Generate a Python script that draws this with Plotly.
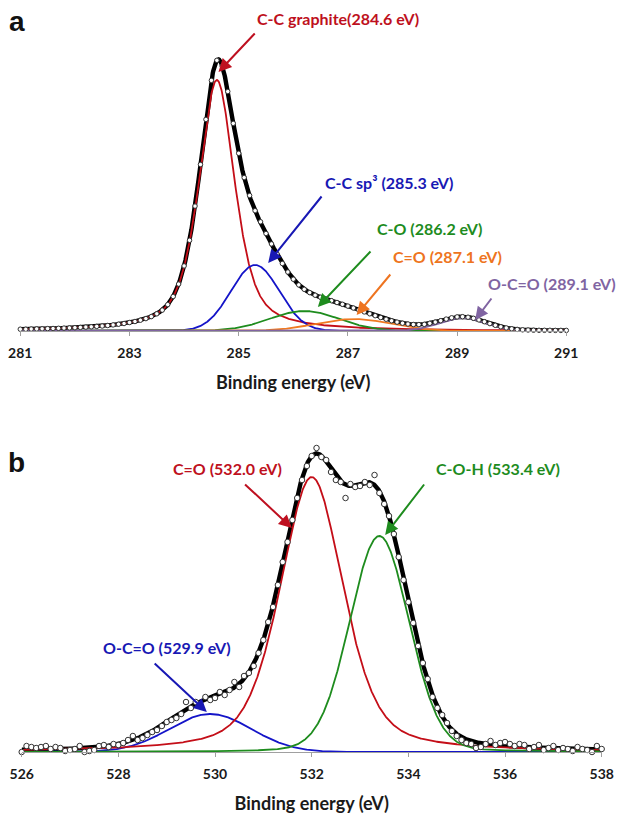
import numpy as np
import plotly.graph_objects as go

# ---------------- C 1s region (panel a) ----------------
c1s_start, c1s_step = 281.0, 0.1
c1s_counts = [
    1.8, 1.8, 2.0, 2.1, 2.2, 2.4, 2.5, 2.7, 2.9, 3.1,
    3.3, 3.6, 3.9, 4.2, 4.6, 5.0, 5.5, 6.1, 6.8, 7.5,
    8.5, 9.5, 10.8, 12.4, 14.4, 17.2, 20.9, 26.4, 34.5, 46.9,
    65.1, 90.7, 124.9, 166.5, 211.6, 250.6, 270.7, 264.7, 239.5, 207.6,
    177.7, 153.4, 135.5, 120.3, 109.2, 97.5, 87.1, 77.1, 67.5, 59.0,
    51.8, 46.1, 41.7, 38.4, 35.8, 33.7, 31.9, 30.3, 28.5, 26.7,
    24.9, 23.0, 21.0, 19.1, 17.2, 15.3, 13.5, 11.8, 10.2, 8.9,
    7.8, 7.0, 6.5, 6.4, 6.7, 7.7, 8.9, 10.3, 11.9, 13.2,
    14.1, 14.3, 13.8, 12.7, 11.1, 9.3, 7.4, 5.7, 4.2, 3.1,
    2.2, 1.6, 1.2, 1.0, 0.8, 0.7, 0.7, 0.7, 0.6, 0.6,
    0.6,
]
c1s_names = ["C-C graphite", "C-C sp³ ", "C-O ", "C=O ", "O-C=O "]
c1s_centers = [284.6, 285.3, 286.2, 287.1, 289.1]
c1s_heights = [251, 66, 20, 12, 13]
c1s_fwhm = [0.78, 1.04, 1.5, 1.6, 1.0]
c1s_lorentz = [0.6, 0.0, 0.0, 0.0, 0.0]
c1s_ticks = [281, 283, 285, 287, 289, 291]

# ---------------- O 1s region (panel b) ----------------
o1s_start, o1s_step = 526.0, 0.1
o1s_counts = [
    0, 6, 5, 4, 5, 6, 3, 5, 4, 1,
    2, 3, 6, 0, 1, 2, 6, 7, 5, 8,
    7, 9, 12, 16, 12, 14, 17, 20, 22, 26,
    30, 32, 34, 38, 50, 44, 50, 47, 55, 52,
    54, 60, 57, 62, 70, 65, 76, 79, 86, 99,
    112, 130, 145, 167, 190, 210, 232, 254, 272, 286,
    296, 304, 295, 292, 280, 272, 270, 254, 268, 265,
    266, 270, 267, 277, 259, 248, 236, 218, 195, 172,
    150, 129, 106, 89, 73, 55, 44, 37, 29, 21,
    16, 12, 9, 8, 4, 5, 8, 11, 7, 9,
    10, 8, 6, 8, 7, 3, 5, 7, 2, 4,
    6, 2, 4, 3, 1, 5, 3, 2, 0, 6,
    3,
]
o1s_names = ["O-C=O ", "C=O ", "C-O-H "]
o1s_centers = [529.9, 532.0, 533.4]
o1s_heights = [38, 275, 216]
o1s_fwhm = [2.0, 1.55, 1.45]
o1s_lorentz = [0.0, 0.45, 0.1]
o1s_ticks = [526, 528, 530, 532, 534, 536, 538]

# ---------------- styling ----------------
c1s_colors = ["#C40E18", "#1414C8", "#1E8C1E", "#F07A22", "#8064A2"]
c1s_text_colors = ["#BE1020", "#1818B4", "#1E8C1E", "#EE7420", "#8064A2"]
o1s_colors = ["#1414C8", "#C40E18", "#1E8C1E"]
o1s_text_colors = ["#1818B4", "#BE1020", "#1E8C1E"]

# label placement: (text x, text y, arrow tail x, tail y, arrow tip x, tip y)
c1s_callouts = [
    (286.82, 313, 285.32, 299, 284.63, 259),
    (287.77, 149, 286.54, 136, 285.54, 68),
    (288.50, 103, 287.44, 81, 286.45, 24),
    (288.83, 75, 287.80, 58, 287.16, 16),
    (290.74, 48, 289.65, 34, 289.33, 11),
]
o1s_callouts = [
    (529.01, 105, 528.72, 90, 529.83, 40),
    (530.26, 284, 530.59, 269, 531.59, 224),
    (535.85, 284, 534.35, 269, 533.52, 217),
]

FONT = "Lato"
W, H = 620, 817


def pseudo_voigt(e, center, height, fwhm, eta):
    """Gaussian-Lorentzian sum line shape used for the peak fit."""
    u = (e - center) / fwhm
    gauss = np.exp(-4.0 * np.log(2.0) * u ** 2)
    lorentz = 1.0 / (1.0 + 4.0 * u ** 2)
    return height * ((1.0 - eta) * gauss + eta * lorentz)


fig = go.Figure()


def add_panel(xa, ya, start, step, counts, centers, heights, fwhm, eta,
              colors, order, lo, hi, msize):
    energy = np.round(start + step * np.arange(len(counts)), 2)
    grid = np.linspace(lo, hi, 1201)
    comps = [pseudo_voigt(grid, c, h, w, n)
             for c, h, w, n in zip(centers, heights, fwhm, eta)]
    envelope = np.sum(comps, axis=0)
    fig.add_trace(go.Scatter(x=grid, y=envelope, mode="lines",
                             line=dict(color="#000000", width=4.4),
                             xaxis=xa, yaxis=ya, hoverinfo="skip"))
    for i in order:
        fig.add_trace(go.Scatter(x=grid, y=comps[i], mode="lines",
                                 line=dict(color=colors[i], width=1.8),
                                 xaxis=xa, yaxis=ya, hoverinfo="skip"))
    fig.add_trace(go.Scatter(x=energy, y=counts, mode="markers",
                             marker=dict(size=msize, color="#ffffff",
                                         line=dict(color="#333333", width=1)),
                             cliponaxis=False, xaxis=xa, yaxis=ya))


add_panel("x", "y", c1s_start, c1s_step, c1s_counts, c1s_centers, c1s_heights,
          c1s_fwhm, c1s_lorentz, c1s_colors, [0, 1, 2, 3, 4], 281, 291, 4.5)
add_panel("x2", "y2", o1s_start, o1s_step, o1s_counts, o1s_centers, o1s_heights,
          o1s_fwhm, o1s_lorentz, o1s_colors, [0, 1, 2], 526, 538, 5.5)

annotations = []


def add_callouts(xref, yref, names, centers, callouts, colors):
    for name, c, (tx, ty, ax, ay, px, py), col in zip(names, centers, callouts, colors):
        annotations.append(dict(
            x=px, y=py, ax=ax, ay=ay, xref=xref, yref=yref,
            axref=xref, ayref=yref, text="", showarrow=True,
            arrowhead=2, arrowsize=1.3, arrowwidth=2, arrowcolor=col))
        annotations.append(dict(
            x=tx, y=ty, xref=xref, yref=yref, showarrow=False,
            text=f"<b>{name}({c:.1f} eV)</b>",
            font=dict(family=FONT, size=16, color=col),
            xanchor="center", yanchor="middle"))


add_callouts("x", "y", c1s_names, c1s_centers, c1s_callouts, c1s_text_colors)
add_callouts("x2", "y2", o1s_names, o1s_centers, o1s_callouts, o1s_text_colors)

for letter, py in (("a", 21.7), ("b", 462)):
    annotations.append(dict(
        x=16.7 / W, y=1 - py / H, xref="paper", yref="paper", showarrow=False,
        text=f"<b>{letter}</b>", xanchor="center", yanchor="middle",
        font=dict(family="Liberation Sans", size=28, color="#111111")))

xaxis_style = dict(
    showline=True, linecolor="#a0a0a0", linewidth=1,
    ticks="outside", ticklen=4, tickcolor="#a0a0a0", tickwidth=1,
    showgrid=False, zeroline=False, automargin=False,
    tickfont=dict(family=FONT, size=14, color="#1a1a1a", weight="bold"),
    ticklabelstandoff=5,
    title=dict(text="Binding energy (eV)", standoff=16,
               font=dict(family=FONT, size=18, color="#1a1a1a", weight="bold")),
)
yaxis_style = dict(visible=False, showgrid=False, zeroline=False, fixedrange=True)

fig.update_layout(
    width=W, height=H, margin=dict(l=0, r=0, t=0, b=0),
    paper_bgcolor="#ffffff", plot_bgcolor="#ffffff", showlegend=False,
    xaxis=dict(domain=[20.3 / W, 566.3 / W], range=[281, 291],
               tickvals=c1s_ticks, anchor="y", **xaxis_style),
    yaxis=dict(domain=[1 - 331 / H, 1.0], range=[0, 331], anchor="x",
               **yaxis_style),
    xaxis2=dict(domain=[21.7 / W, 601.7 / W], range=[526, 538],
                tickvals=o1s_ticks, anchor="y2", **xaxis_style),
    yaxis2=dict(domain=[1 - 752 / H, 1 - 422 / H], range=[0, 330], anchor="x2",
                **yaxis_style),
    annotations=annotations,
)

fig.write_html("out.html")
